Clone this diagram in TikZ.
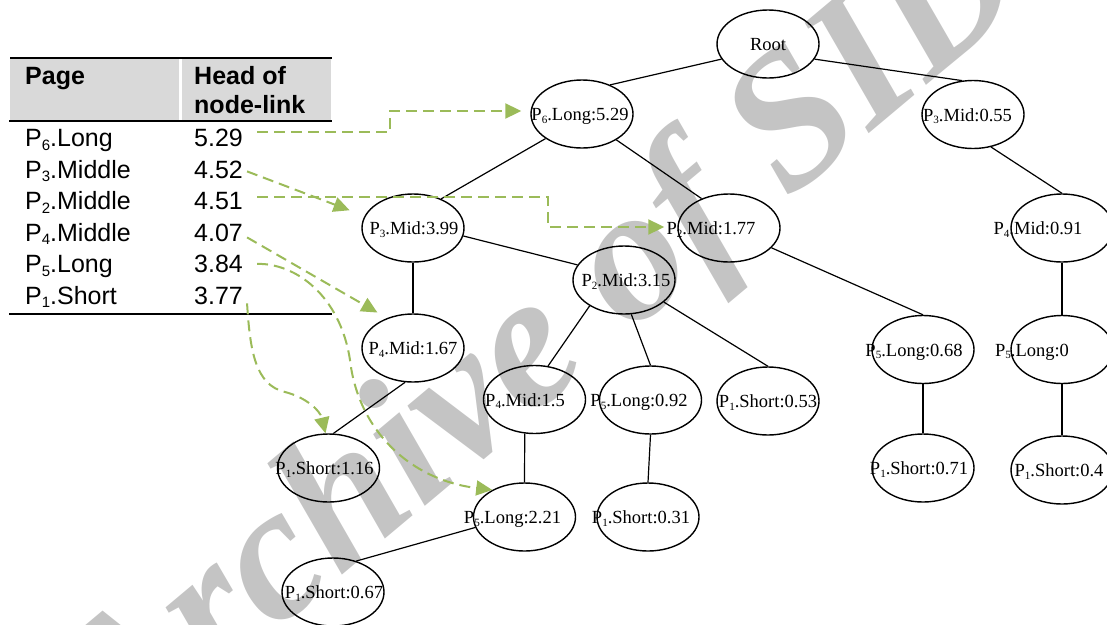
\documentclass[tikz,border=0pt]{standalone}
\usepackage{fontspec}
\setmainfont{Liberation Serif}
\newfontfamily\tablefam{Liberation Sans}
\usetikzlibrary{arrows.meta,shapes.geometric}
\definecolor{LinkGreen}{HTML}{9BBB59}
\definecolor{HeadFill}{gray}{0.85}
\definecolor{StampGray}{gray}{0.77}
\newcommand{\Idx}[1]{\raisebox{-0.14em}{\scalebox{0.6}{#1}}}
\newcommand{\TreeFont}{\fontsize{18.5}{22}\selectfont}
\newcommand{\CellFont}{\tablefam\fontsize{25}{30}\selectfont}
% ellipse with its label, the label may sit off centre
\newcommand{\TreeNode}[4]{%
  \node[knot] (#1) at (#2) {};
  \node[knotlabel,xshift=#3pt] (#1-label) at (#1.center) {#4};
}
\tikzset{
  diagram/.style={x=1pt,y=-1pt},
  knot/.style={draw,ellipse,line width=1.4pt,minimum width=102pt,minimum height=68pt,inner sep=0pt},
  knotlabel/.style={font=\TreeFont,inner sep=0pt,anchor=base,yshift=-6.5pt},
  edge/.style={line width=1.2pt},
  cell/.style={font=\CellFont,inner sep=0pt,anchor=base west},
  headcell/.style={cell,font=\CellFont\bfseries},
  rule/.style={line width=2pt},
  link/.style={draw=LinkGreen,line width=2pt,dash pattern=on 11pt off 6pt,
    -{Triangle[length=16pt,width=15pt]}},
  stamp/.style={font=\fontsize{192}{192}\selectfont\bfseries\itshape,text=StampGray,rotate=40,inner sep=0pt},
}

\begin{document}
\begin{tikzpicture}[diagram]
  \useasboundingbox (0,0) rectangle (1107,624);
  \node[stamp] (watermark) at (546,343) {Archive of SID};

  % page table
  \fill[HeadFill] (10,59) rectangle (179,120);
  \fill[HeadFill] (181.5,59) rectangle (331,120);
  \draw[rule] (10,58) -- (332,58);
  \draw[rule,line width=2.6pt] (9,121) -- (332,121);
  \draw[rule] (9,314) -- (332,314);
  \node[headcell] (hpage) at (25,84) {Page};
  \node[headcell] (hhead) at (194,84) {Head of};
  \node[headcell] (hlink) at (194,113) {node-link};

  \node[cell] (page1) at (25,146.5) {P\Idx{6}.Long};
  \node[cell] (page2) at (25,178) {P\Idx{3}.Middle};
  \node[cell] (page3) at (25,209.5) {P\Idx{2}.Middle};
  \node[cell] (page4) at (25,241) {P\Idx{4}.Middle};
  \node[cell] (page5) at (25,272.5) {P\Idx{5}.Long};
  \node[cell] (page6) at (25,304) {P\Idx{1}.Short};
  \node[cell] (head1) at (194,146.5) {5.29};
  \node[cell] (head2) at (194,178) {4.52};
  \node[cell] (head3) at (194,209.5) {4.51};
  \node[cell] (head4) at (194,241) {4.07};
  \node[cell] (head5) at (194,272.5) {3.84};
  \node[cell] (head6) at (194,304) {3.77};

  % tree
  \TreeNode{root}{768,44}{0}{Root}
  \TreeNode{long529}{582,114}{-2}{P\Idx{6}.Long:5.29}
  \TreeNode{mid055}{973,114.5}{-5.5}{P\Idx{3}.Mid:0.55}
  \TreeNode{mid399}{413,228}{1}{P\Idx{3}.Mid:3.99}
  \TreeNode{mid177}{729,228}{-18}{P\Idx{2}.Mid:1.77}
  \TreeNode{mid091}{1062,228}{-24}{P\Idx{4}.Mid:0.91}
  \TreeNode{mid315}{624,280}{2}{P\Idx{2}.Mid:3.15}
  \TreeNode{mid167}{413,348}{0}{P\Idx{4}.Mid:1.67}
  \TreeNode{long068}{923,349.5}{-9}{P\Idx{5}.Long:0.68}
  \TreeNode{long000}{1062,349.5}{-30}{P\Idx{5}.Long:0}
  \TreeNode{mid150}{534.5,399.5}{-9.5}{P\Idx{4}.Mid:1.5}
  \TreeNode{long092}{650.5,400}{-11.5}{P\Idx{5}.Long:0.92}
  \TreeNode{short053}{768,401}{0}{P\Idx{1}.Short:0.53}
  \TreeNode{short116}{328.5,468}{-4}{P\Idx{1}.Short:1.16}
  \TreeNode{short071}{923,468}{-4}{P\Idx{1}.Short:0.71}
  \TreeNode{short040}{1062,470}{-3}{P\Idx{1}.Short:0.4}
  \TreeNode{long221}{524.5,517}{-12}{P\Idx{5}.Long:2.21}
  \TreeNode{short031}{648,517}{-7}{P\Idx{1}.Short:0.31}
  \TreeNode{short067}{333,592}{1}{P\Idx{1}.Short:0.67}

  \draw[edge] (root.198) -- (long529.46);
  \draw[edge] (root.342) -- (mid055.108);
  \draw[edge] (long529.214) -- (mid399.46);
  \draw[edge] (long529.323) -- (mid177.133);
  \draw[edge] (mid055.299) -- (mid091.north);
  \draw[edge] (mid399.351) -- (mid315.162);
  \draw[edge] (mid177.335) -- (long068.north);
  \draw[edge] (mid091.south) -- (long000.north);
  \draw[edge] (mid399.south) -- (mid167.north);
  \draw[edge] (mid315.217) -- (mid150.68);
  \draw[edge] (mid315.282) -- (long092.north);
  \draw[edge] (mid315.331) -- (short053.north);
  \draw[edge] (long068.south) -- (short071.north);
  \draw[edge] (long000.south) -- (short040.north);
  \draw[edge] (mid167.257) -- (short116.82);
  \draw[edge] (mid150.254) -- (long221.north);
  \draw[edge] (long092.south) -- (short031.north);
  \draw[edge] (long221.192) -- (short067.53);

  % heads of the node-links
  \draw[link,shorten >=9pt] ([xshift=14pt,yshift=6pt]head1.east) -| (390,111) -- ([yshift=3pt]long529.west);
  \draw[link,shorten >=16pt] ([xshift=4pt,yshift=-2pt]head2.east) -- (mid399.166);
  \draw[link,shorten >=13pt] ([xshift=14pt,yshift=4pt]head3.east) -| (548,227) -- ([yshift=1pt]mid177.west);
  \draw[link,shorten >=11pt] ([xshift=4pt,yshift=-5pt]head4.east) -- (mid167.131);
  \draw[link] ([xshift=14pt]head5.east) .. controls (295,263) and (340,295) .. (350,360)
    .. controls (358,430) and (410,480) .. (long221.140);
  \draw[link] ([xshift=4pt,yshift=-8pt]head6.east) .. controls (250,350) and (255,385) .. (285,392)
    .. controls (305,397) and (320,410) .. (short116.95);
\end{tikzpicture}
\end{document}
